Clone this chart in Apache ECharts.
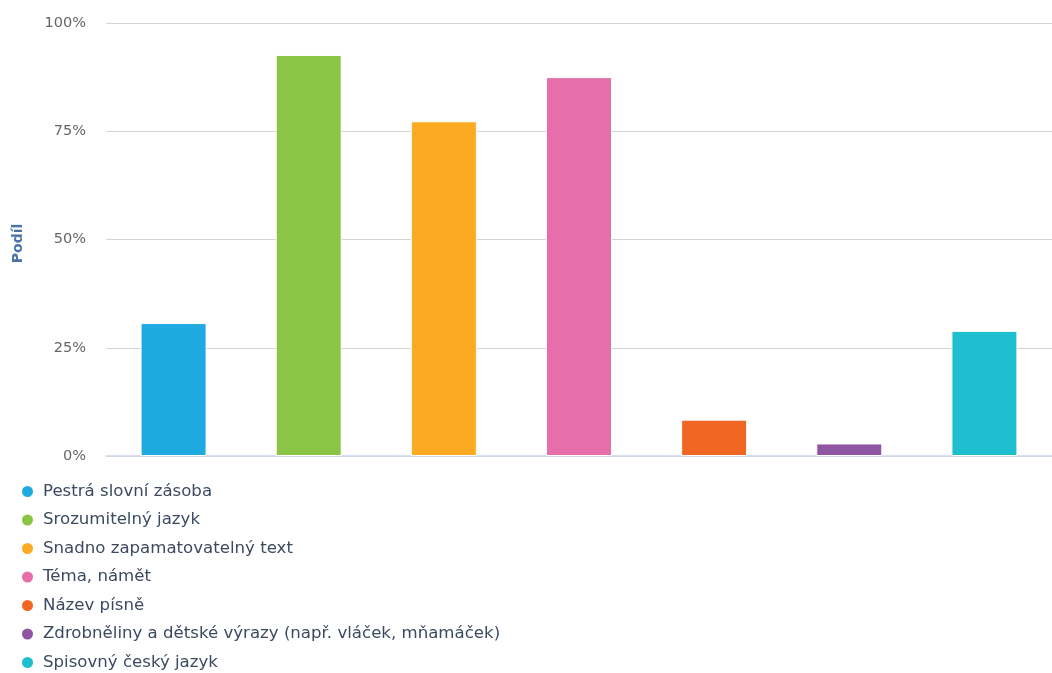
<!DOCTYPE html>
<html>
<head>
<meta charset="utf-8">
<script src="https://cdn.jsdelivr.net/npm/echarts@6/dist/echarts.min.js"></script>
<style>
html,body{margin:0;padding:0;background:#fff;}
#chart{width:1052px;height:673px;}
</style>
</head>
<body>
<div id="chart"></div>
<script>
var categories = ['Pestrá slovní zásoba', 'Srozumitelný jazyk', 'Snadno zapamatovatelný text', 'Téma, námět', 'Název písně', 'Zdrobněliny a dětské výrazy (např. vláček, mňamáček)', 'Spisovný český jazyk'];
var values = [30.7, 92.6, 77.3, 87.5, 8.4, 2.9, 28.9];
var colors = ['#1fa9e1', '#8bc546', '#fbaa22', '#e66ea9', '#f06723', '#9055a2', '#1dbfcf'];
var yTicks = [0, 25, 50, 75, 100];
var axisTitle = 'Podíl';

var series = categories.map(function (name, i) {
  var d = categories.map(function (_, j) { return j === i ? values[i] : null; });
  return {
    name: name,
    type: 'bar',
    stack: 'all',
    data: d,
    barWidth: 66,
    itemStyle: { color: colors[i], borderColor: '#ffffff', borderWidth: 1 },
    emphasis: { disabled: true }
  };
});

var chart = echarts.init(document.getElementById('chart'), null, { renderer: 'canvas' });
chart.setOption({
  animation: false,
  color: colors,
  grid: { left: 106, top: 23, width: 947, height: 433, containLabel: false },
  legend: {
    orient: 'vertical',
    left: 20,
    top: 483,
    bottom: 0,
    padding: 0,
    icon: 'circle',
    itemWidth: 13,
    itemHeight: 13,
    itemGap: 11.5,
    textStyle: { fontFamily: 'DejaVu Sans', fontSize: 16.6, color: '#3b4a60', padding: [0, 0, 0, 4] },
    data: categories
  },
  xAxis: {
    type: 'category',
    data: categories,
    axisLine: { lineStyle: { color: '#ccd6eb', width: 1.5 } },
    axisTick: { alignWithLabel: true, length: 7, lineStyle: { color: '#ccd6eb' } },
    axisLabel: { show: false }
  },
  yAxis: {
    type: 'value',
    min: yTicks[0],
    max: yTicks[yTicks.length - 1],
    interval: yTicks[1] - yTicks[0],
    name: axisTitle,
    nameLocation: 'middle',
    nameRotate: 90,
    nameGap: 81,
    nameTextStyle: { fontFamily: 'DejaVu Sans', fontSize: 14, fontWeight: 'bold', color: '#4a74a8', padding: [0, 8, 0, 0] },
    axisLine: { show: false },
    axisTick: { show: false },
    axisLabel: { formatter: '{value}%', margin: 20, fontFamily: 'DejaVu Sans', fontSize: 14.5, color: '#666666' },
    splitLine: { lineStyle: { color: '#d4d4d4', width: 1 } }
  },
  series: series
});
</script>
</body>
</html>
